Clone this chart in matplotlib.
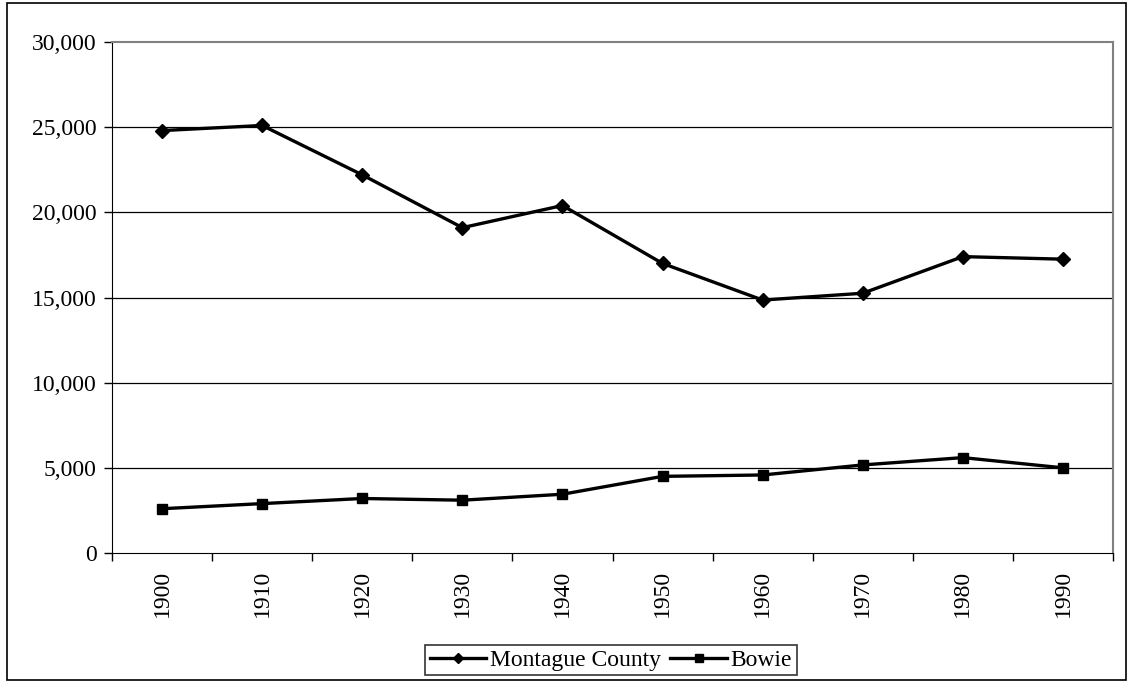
import numpy as np
from matplotlib import pyplot as plt
from matplotlib.patches import Rectangle
from matplotlib.ticker import FuncFormatter, FixedLocator

years = ['1900', '1910', '1920', '1930', '1940', '1950', '1960', '1970', '1980', '1990']
montague = [24800, 25100, 22200, 19100, 20400, 17000, 14850, 15250, 17400, 17250]
bowie = [2600, 2900, 3200, 3100, 3450, 4500, 4580, 5170, 5600, 5000]

plt.rcParams['font.family'] = ['Liberation Serif', 'DejaVu Serif']

fig = plt.figure(figsize=(11.29, 6.85), dpi=100)
ax = fig.add_axes([112 / 1129, 1 - 553 / 685, (1113 - 112) / 1129, (553 - 42) / 685])

# outer chart border
fig.patches.append(Rectangle((7 / 1129, 5 / 685), 1119 / 1129, 677 / 685,
                             transform=fig.transFigure, fill=False,
                             edgecolor='black', linewidth=1.2))

x = np.arange(len(years))
ax.plot(x, montague, color='black', linewidth=2.4, marker='D', markersize=7,
        label='Montague County')
ax.plot(x, bowie, color='black', linewidth=2.4, marker='s', markersize=7,
        label='Bowie')

ax.set_xlim(-0.5, len(years) - 0.5)
ax.set_ylim(0, 30000)
ax.set_yticks(np.arange(0, 30001, 5000))
ax.yaxis.set_major_formatter(FuncFormatter(lambda v, p: '{:,.0f}'.format(v)))

# category labels in the middle, ticks between categories
ax.set_xticks(x)
ax.set_xticklabels(years, rotation=90)
ax.xaxis.set_minor_locator(FixedLocator(np.arange(-0.5, len(years), 1.0)))
ax.tick_params(axis='x', which='major', length=0, pad=12, labelsize=17)
ax.tick_params(axis='x', which='minor', length=6, width=1, direction='out')
ax.tick_params(axis='y', length=6, width=1, direction='out', labelsize=17, pad=5)

for yv in range(5000, 30000, 5000):
    ax.axhline(yv, color='black', linewidth=0.9, zorder=0)

ax.spines['left'].set_color('black')
ax.spines['bottom'].set_color('black')
ax.spines['top'].set_color('#808080')
ax.spines['right'].set_color('#808080')
ax.spines['top'].set_linewidth(1.5)
ax.spines['right'].set_linewidth(1.5)

leg = ax.legend(loc='center', bbox_to_anchor=(611 / 1129, 1 - 660 / 685),
                bbox_transform=fig.transFigure, ncol=2, fontsize=17,
                frameon=True, fancybox=False, edgecolor='black',
                handlelength=2.4, handletextpad=0.15, columnspacing=0.4,
                borderpad=0.2, markerscale=0.75)
leg.get_frame().set_linewidth(1.2)

fig.savefig('out.png', dpi=100)
